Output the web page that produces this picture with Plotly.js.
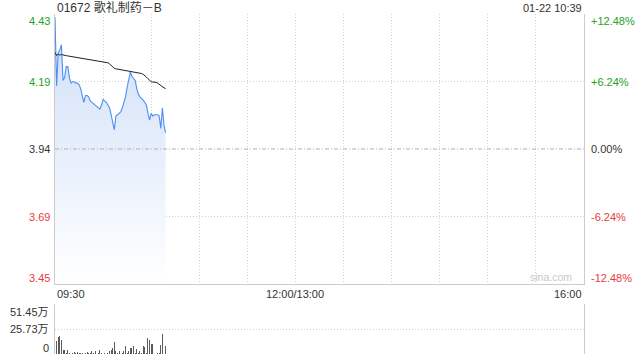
<!DOCTYPE html>
<html>
<head>
<meta charset="utf-8">
<script src="https://cdn.plot.ly/plotly-3.0.1.min.js"></script>
<style>html,body{margin:0;padding:0;background:#fff;}#chart{width:640px;height:360px;}</style>
</head>
<body>
<div id="chart"></div>
<script>
const stockTitle = '01672 歌礼制药－B';
const stamp = '01-22 10:39';
const prevClose = 3.94;
const pctLevels = [12.48, 6.24, 0, -6.24, -12.48];
const priceLabels = ['4.43', '4.19', '3.94', '3.69', '3.45'];
const pctLabels = ['+12.48%', '+6.24%', '0.00%', '-6.24%', '-12.48%'];
const timeLabels = ['09:30', '12:00/13:00', '16:00'];
const timeLabelPos = [0, 150, 330];
const volLabels = ['51.45万', '25.73万', '0'];
const volMax = 51.45;
const sessionMinutes = 330;

const price = [4.42,4.17,4.29,4.30,4.32,4.19,4.20,4.24,4.24,4.20,
  4.18,4.185,4.185,4.18,4.18,4.175,4.16,4.13,4.11,4.135,
  4.135,4.13,4.115,4.11,4.105,4.10,4.095,4.09,4.085,4.10,
  4.12,4.115,4.11,4.10,4.09,4.065,4.04,4.01,4.06,4.065,
  4.07,4.075,4.09,4.11,4.13,4.165,4.20,4.22,4.205,4.195,
  4.19,4.16,4.14,4.13,4.125,4.118,4.11,4.10,4.07,4.045,
  4.07,4.06,4.065,4.065,4.065,4.06,4.015,4.09,4.025,4.00];

const avgPrice = [4.292,4.280,4.286,4.282,4.284,4.282,4.281,4.280,4.279,4.278,
  4.277,4.276,4.275,4.274,4.273,4.272,4.271,4.270,4.269,4.268,
  4.267,4.266,4.265,4.264,4.263,4.262,4.261,4.260,4.259,4.258,
  4.258,4.257,4.256,4.254,4.250,4.244,4.238,4.234,4.232,4.231,
  4.230,4.229,4.228,4.227,4.226,4.225,4.224,4.223,4.222,4.221,
  4.220,4.219,4.218,4.217,4.215,4.212,4.208,4.202,4.196,4.190,
  4.185,4.184,4.184,4.183,4.180,4.175,4.170,4.167,4.163,4.160];

const volume = [51.45,13,18,18.5,14,4,4.5,1.5,4.5,1,
  0.5,0.8,2.5,1.5,2,1,0.8,1.5,0.5,1.2,
  2,0.6,1.5,2.8,1,3.5,0.5,1.5,4.5,0.8,
  0.5,1,0.5,1.5,3.5,4,6,12,2.7,1,
  3.4,0.5,1,3.4,7.9,1.2,2.7,6.2,6.2,8.5,
  1.5,5,0.8,3.4,1,7.9,7.5,1,16.5,14,
  10.5,10.5,0.5,0.5,1,1,9.6,21,9.6,8.6];

const minutes = price.map((_, i) => i);
const yMax = prevClose * (1 + pctLevels[0] / 100);
const yMin = prevClose * (1 + pctLevels[4] / 100);
const levelVals = pctLevels.map(p => prevClose * (1 + p / 100));

const GREEN = '#22a322', RED = '#ea3b3b', DARK = '#333333';
const FONT = 'Arial, "Liberation Sans", "Noto Sans CJK SC", sans-serif';
const GRID = '#d0d0d0';
const DOT = '1px,2px';

function levelColor(p) { return p > 0 ? GREEN : (p < 0 ? RED : DARK); }

const traces = [
  {
    x: minutes, y: price, type: 'scatter', mode: 'lines',
    line: {color: '#4d8ef2', width: 1.1},
    fill: 'tozeroy',
    fillgradient: {type: 'vertical', start: yMin, stop: yMax,
      colorscale: [[0, 'rgba(255,255,255,1)'], [1, 'rgb(206,222,248)']]},
    hoverinfo: 'skip', xaxis: 'x', yaxis: 'y'
  },
  {
    x: minutes, y: avgPrice, type: 'scatter', mode: 'lines',
    line: {color: '#222222', width: 1},
    hoverinfo: 'skip', xaxis: 'x', yaxis: 'y'
  },
  {
    x: minutes, y: volume, type: 'bar', width: 0.6,
    marker: {color: '#5a5a5a', line: {width: 0}},
    hoverinfo: 'skip', xaxis: 'x2', yaxis: 'y2'
  }
];

const gridTimes = [];
for (let t = 30; t < sessionMinutes; t += 30) gridTimes.push(t);

const annotations = [];
function ann(o) {
  annotations.push(Object.assign({showarrow: false, font: {family: FONT, size: 11, color: DARK}}, o));
}
ann({text: stockTitle, xref: 'paper', yref: 'paper', x: 0, y: 1, xanchor: 'left', yanchor: 'middle', yshift: 7, font: {family: FONT, size: 12, color: DARK}});
ann({text: stamp, xref: 'paper', yref: 'paper', x: 1, y: 1, xanchor: 'right', yanchor: 'middle', yshift: 6});

levelVals.forEach((v, i) => {
  const ys = i === 0 ? -7 : (i === levelVals.length - 1 ? 6 : 0);
  ann({text: priceLabels[i], xref: 'paper', yref: 'y', x: 0, y: v, xanchor: 'right', yanchor: 'middle', xshift: -3, yshift: ys, font: {family: FONT, size: 11, color: levelColor(pctLevels[i])}});
  ann({text: pctLabels[i], xref: 'paper', yref: 'y', x: 1, y: v, xanchor: 'left', yanchor: 'middle', xshift: 5, yshift: ys, font: {family: FONT, size: 11, color: levelColor(pctLevels[i])}});
});

timeLabels.forEach((t, i) => {
  const anchor = i === 0 ? 'left' : (i === timeLabels.length - 1 ? 'right' : 'center');
  ann({text: t, xref: 'x', yref: 'y', x: timeLabelPos[i], y: yMin, xanchor: anchor, yanchor: 'top', yshift: -2});
});

const volVals = [volMax, volMax / 2, 0];
volVals.forEach((v, i) => {
  const ys = i === 0 ? -8 : (i === volVals.length - 1 ? 6 : 0);
  ann({text: volLabels[i], xref: 'paper', yref: 'y2', x: 0, y: v, xanchor: 'right', yanchor: 'middle', xshift: -4, yshift: ys});
});

ann({text: 'sina.com', xref: 'paper', yref: 'y', x: 1, y: yMin, xanchor: 'right', yanchor: 'bottom', xshift: -10, yshift: -1, font: {family: FONT, size: 10.5, color: '#c8c8c8'}});

const layout = {
  width: 640, height: 360,
  margin: {l: 55, r: 56, t: 14, b: 6, pad: 0},
  paper_bgcolor: '#ffffff', plot_bgcolor: 'rgba(0,0,0,0)',
  showlegend: false, bargap: 0,
  font: {family: FONT, size: 11, color: DARK},
  xaxis: {domain: [0, 1], anchor: 'y', range: [0, sessionMinutes], tickvals: gridTimes,
    showticklabels: false, ticks: '', showgrid: true, gridcolor: GRID, griddash: DOT, gridwidth: 1,
    showline: true, linecolor: '#cccccc', linewidth: 1, zeroline: false, fixedrange: true},
  yaxis: {domain: [70 / 340, 1], anchor: 'x', range: [yMin, yMax], tickvals: [levelVals[1], levelVals[3]],
    showticklabels: false, ticks: '', showgrid: true, gridcolor: GRID, griddash: DOT, gridwidth: 1,
    showline: true, mirror: true, linecolor: '#cccccc', linewidth: 1, zeroline: false, fixedrange: true},
  xaxis2: {domain: [0, 1], anchor: 'y2', range: [0, sessionMinutes], showgrid: false, showticklabels: false,
    ticks: '', zeroline: false, showline: false, fixedrange: true},
  yaxis2: {domain: [0, 50 / 340], anchor: 'x2', range: [0, volMax], tickvals: volVals,
    showticklabels: false, ticks: '', showgrid: true, gridcolor: GRID, griddash: DOT, gridwidth: 1,
    showline: true, mirror: true, linecolor: '#cccccc', linewidth: 1, zeroline: false, fixedrange: true},
  shapes: [
    {type: 'line', xref: 'x', yref: 'y', x0: 0, x1: sessionMinutes, y0: prevClose, y1: prevClose,
      line: {color: '#b0b0b0', width: 1, dash: '4px,2px,1px,2px'}, layer: 'above'}
  ],
  annotations: annotations
};

Plotly.newPlot('chart', traces, layout, {staticPlot: true, displayModeBar: false});
</script>
</body>
</html>
